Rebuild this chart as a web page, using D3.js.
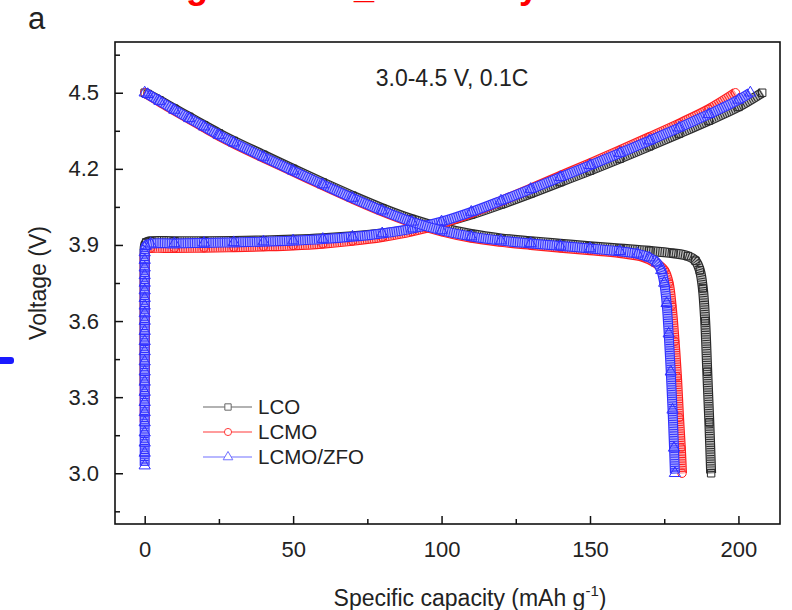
<!DOCTYPE html>
<html>
<head>
<meta charset="utf-8">
<script src="https://cdn.jsdelivr.net/npm/d3@7"></script>
<style>
  body { margin: 0; background: #fff; }
  text { font-family: Arial, "Liberation Sans", sans-serif; fill: #222; }
</style>
</head>
<body>
<div id="Vis"></div>
<script>
// ---- data: [capacity (mAh/g), voltage (V)] ----
var lcoCharge = [
  [0,3.35],[0,3.41],[0,3.47],[0,3.53],[0,3.58],[0,3.63],[0,3.68],[0,3.72],[0,3.76],[0,3.8],[0,3.83],[0,3.86],[0,3.89],
  [0.5,3.91],[2,3.915],[10,3.915],[20,3.915],[30,3.916],[40,3.918],[50,3.921],[60,3.926],[70,3.934],[80,3.945],
  [90,3.962],[100,3.987],[110,4.02],[120,4.06],[130,4.103],[140,4.148],[150,4.193],[160,4.24],[170,4.289],
  [180,4.339],[190,4.39],[200,4.444],[208,4.5]
];
var lcoDischarge = [
  [0,4.5],[1,4.495],[5,4.47],[10,4.437],[15,4.405],[20,4.372],[25,4.34],[30,4.31],[40,4.255],[50,4.2],[60,4.146],
  [70,4.094],[80,4.045],[90,4.002],[100,3.968],[110,3.943],[120,3.926],[130,3.915],[140,3.905],[150,3.895],
  [160,3.886],[170,3.877],[178,3.867],[183,3.856],[185.5,3.838],[187,3.8],[188,3.73],[188.8,3.6],[189.5,3.4],
  [190.2,3.2],[190.8,3.0]
];
var lcmoCharge = [
  [0,3.2],[0,3.25],[0,3.3],[0,3.35],[0,3.4],[0,3.45],[0,3.5],[0,3.55],[0,3.6],[0,3.64],[0,3.68],[0,3.72],[0,3.76],
  [0,3.8],[0,3.83],[0,3.86],[0.5,3.885],[2,3.888],[10,3.888],[20,3.889],[30,3.891],[40,3.894],[50,3.898],[60,3.905],
  [70,3.916],[80,3.931],[90,3.953],[100,3.985],[110,4.026],[120,4.073],[130,4.122],[140,4.172],[150,4.222],
  [160,4.273],[170,4.325],[180,4.378],[190,4.435],[199,4.5]
];
var lcmoDischarge = [
  [0,4.5],[1,4.493],[5,4.465],[10,4.43],[15,4.397],[20,4.363],[25,4.33],[30,4.3],[40,4.244],[50,4.19],[60,4.135],
  [70,4.082],[80,4.032],[90,3.988],[100,3.953],[110,3.928],[120,3.912],[130,3.9],[140,3.889],[150,3.879],
  [160,3.868],[168,3.852],[172,3.83],[175,3.8],[176.5,3.75],[177.5,3.66],[178.5,3.52],[179.3,3.38],[180,3.22],
  [180.6,3.1],[181,3.0]
];
var zfoCharge = [
  [0,3.03],[0,3.08],[0,3.12],[0,3.16],[0,3.2],[0,3.24],[0,3.28],[0,3.32],[0,3.36],[0,3.4],[0,3.44],[0,3.48],[0,3.52],
  [0,3.56],[0,3.6],[0,3.63],[0,3.66],[0,3.69],[0,3.72],[0,3.75],[0,3.78],[0,3.81],[0,3.84],[0,3.87],[0.3,3.895],
  [2,3.905],[10,3.906],[20,3.908],[30,3.91],[40,3.913],[50,3.917],[60,3.923],[70,3.932],[80,3.945],[90,3.964],
  [100,3.992],[110,4.03],[120,4.074],[130,4.12],[140,4.167],[150,4.214],[160,4.262],[170,4.311],[180,4.362],
  [190,4.415],[200,4.472],[204,4.5]
];
var zfoDischarge = [
  [0,4.5],[1,4.494],[5,4.467],[10,4.432],[15,4.399],[20,4.366],[25,4.333],[30,4.303],[40,4.247],[50,4.192],
  [60,4.138],[70,4.085],[80,4.035],[90,3.991],[100,3.957],[110,3.933],[120,3.917],[130,3.906],[140,3.896],
  [150,3.886],[160,3.875],[166,3.865],[170,3.85],[172.5,3.83],[174,3.8],[175,3.75],[175.8,3.67],[176.5,3.55],
  [177.2,3.4],[177.8,3.25],[178.3,3.1],[178.6,3.0]
];

var seriesNames = ["LCO", "LCMO", "LCMO/ZFO"];
var xTicks = [0, 50, 100, 150, 200];
var xMinor = [25, 75, 125, 175];
var yTicks = [3.0, 3.3, 3.6, 3.9, 4.2, 4.5];
var yMinor = [2.85, 3.15, 3.45, 3.75, 4.05, 4.35, 4.65];

// ---- layout ----
var margin = {top: 42, right: 12, bottom: 86, left: 115},
    width = 792 - margin.left - margin.right,
    height = 610 - margin.top - margin.bottom;

var root = d3.select("#Vis")
  .append("svg")
    .attr("width", 792)
    .attr("height", 610)
    .style("display", "block");

var svg = root.append("g")
    .attr("transform", "translate(" + margin.left + "," + margin.top + ")");

var x = d3.scaleLinear().domain([-10, 214]).range([0, width]);
var y = d3.scaleLinear().domain([2.8, 4.7]).range([height, 0]);

// axes (ticks point inward)
var xAxis = svg.append("g")
  .attr("transform", "translate(0," + height + ")")
  .call(d3.axisBottom(x).tickValues(xTicks).tickSizeInner(-8).tickSizeOuter(0).tickPadding(17));
svg.append("g")
  .attr("transform", "translate(0," + height + ")")
  .call(d3.axisBottom(x).tickValues(xMinor).tickSizeInner(-5).tickSizeOuter(0).tickFormat(""));
var yAxis = svg.append("g")
  .call(d3.axisLeft(y).tickValues(yTicks).tickFormat(d3.format(".1f")).tickSizeInner(-8).tickSizeOuter(0).tickPadding(16));
svg.append("g")
  .call(d3.axisLeft(y).tickValues(yMinor).tickSizeInner(-5).tickSizeOuter(0).tickFormat(""));

svg.selectAll(".domain").remove();
svg.selectAll(".tick line").attr("stroke", "#111").attr("stroke-width", 1.5);
svg.selectAll(".tick text").attr("font-size", "22px").attr("fill", "#222");

// frame
svg.append("rect")
  .attr("width", width)
  .attr("height", height)
  .attr("fill", "none")
  .attr("stroke", "#111")
  .attr("stroke-width", 1.6);

// curves: dense hollow markers look like a hatched band
var line = d3.line()
  .x(function(d) { return x(d[0]); })
  .y(function(d) { return y(d[1]); })
  .curve(d3.curveCatmullRom.alpha(0.5));

function drawCurve(data, color, tint, symbol) {
  var g = svg.append("g");
  g.append("path").datum(data)
    .attr("d", line).attr("fill", "none")
    .attr("stroke", color).attr("stroke-width", 10);
  g.append("path").datum(data)
    .attr("d", line).attr("fill", "none")
    .attr("stroke", tint).attr("stroke-width", 7.6);
  g.append("path").datum(data)
    .attr("d", line).attr("fill", "none")
    .attr("stroke", color).attr("stroke-width", 7.6)
    .attr("stroke-dasharray", "1 1.3");
  g.selectAll("path.pt")
    .data(data)
    .enter().append("path")
      .attr("class", "pt")
      .attr("transform", function(d) { return "translate(" + x(d[0]) + "," + y(d[1]) + ")"; })
      .attr("d", d3.symbol().type(symbol).size(55))
      .attr("fill", "none")
      .attr("stroke", color)
      .attr("stroke-width", 1);
}

var colors = ["#2a2a2a", "#ff1e1e", "#3030ff"];
var tints = ["#bdbdbd", "#ffb4b4", "#a8a8ff"];
var legendColors = ["#666666", "#ff3b3b", "#7070ff"];
var symbols = [d3.symbolSquare, d3.symbolCircle, d3.symbolTriangle];

drawCurve(lcoCharge, colors[0], tints[0], symbols[0]);
drawCurve(lcoDischarge, colors[0], tints[0], symbols[0]);
drawCurve(lcmoCharge, colors[1], tints[1], symbols[1]);
drawCurve(lcmoDischarge, colors[1], tints[1], symbols[1]);
drawCurve(zfoCharge, colors[2], tints[2], symbols[2]);
drawCurve(zfoDischarge, colors[2], tints[2], symbols[2]);

// legend
var legend = root.append("g").attr("transform", "translate(203,407)");
seriesNames.forEach(function(name, i) {
  var row = legend.append("g").attr("transform", "translate(0," + (i * 25) + ")");
  row.append("line")
    .attr("x1", 0).attr("x2", 49).attr("y1", 0).attr("y2", 0)
    .attr("stroke", legendColors[i]).attr("stroke-width", 1.2);
  row.append("path")
    .attr("transform", "translate(25,0)")
    .attr("d", d3.symbol().type(symbols[i]).size(40))
    .attr("fill", "#fff")
    .attr("stroke", legendColors[i]);
  row.append("text")
    .attr("x", 55).attr("y", 0).attr("dy", "0.36em")
    .attr("font-size", "20.5px")
    .text(name);
});

// annotation
root.append("text")
  .attr("x", 452).attr("y", 86)
  .attr("text-anchor", "middle")
  .attr("font-size", "23px")
  .text("3.0-4.5 V, 0.1C");

// axis titles
root.append("text")
  .attr("transform", "translate(46,283) rotate(-90)")
  .attr("text-anchor", "middle")
  .attr("font-size", "23px")
  .text("Voltage (V)");

var xt = root.append("text")
  .attr("x", 470).attr("y", 606)
  .attr("text-anchor", "middle")
  .attr("font-size", "23px");
xt.append("tspan").text("Specific capacity (mAh g");
xt.append("tspan").attr("font-size", "15px").attr("dy", "-10").text("-1");
xt.append("tspan").attr("dy", "10").text(")");

// panel letter
root.append("text")
  .attr("x", 28).attr("y", 29)
  .attr("font-size", "31px")
  .text("a");

// cropped heading remnants at the top edge (only the descenders show)
root.append("g").attr("font-size", "36px").attr("font-weight", "bold")
  .selectAll("text")
  .data([[197, "g"], [364, "_"], [529, "y"]])
  .enter().append("text")
    .attr("x", function(d) { return d[0]; })
    .attr("y", -2.5)
    .attr("text-anchor", "middle")
    .style("fill", "#ff0000")
    .text(function(d) { return d[1]; });

// cropped blue mark at the left edge
root.append("rect")
  .attr("x", -4).attr("y", 357).attr("width", 18).attr("height", 7)
  .attr("rx", 3).attr("fill", "#1a1aff");
</script>
</body>
</html>
